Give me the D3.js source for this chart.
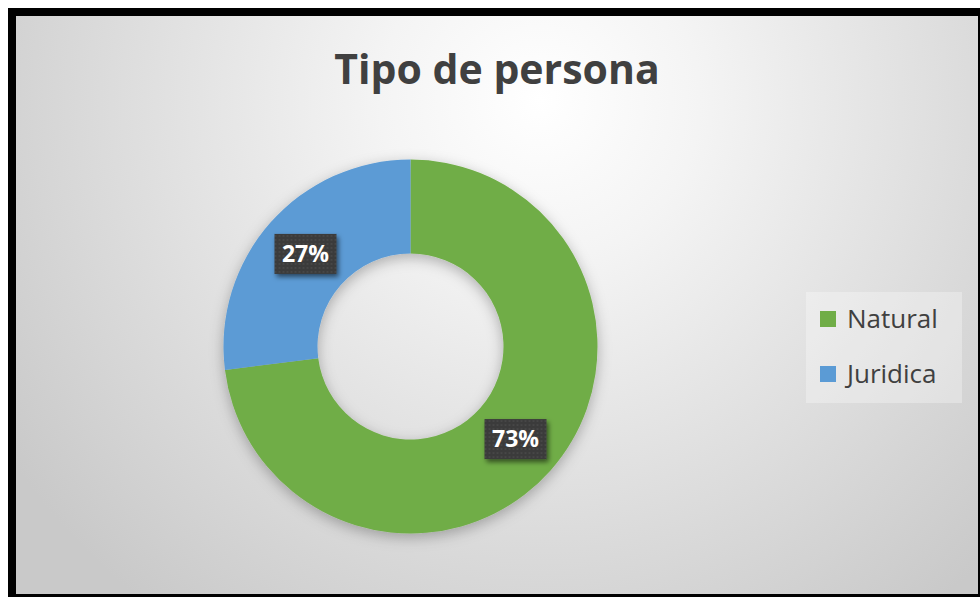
<!DOCTYPE html>
<html lang="es">
<head>
    <meta charset="UTF-8">
    <title>Tipo de persona</title>
    <script src="https://d3js.org/d3.v7.min.js"></script>
    <style>
        body {
            margin: 0;
            background: #fff;
        }
        svg { display: block; }
    </style>
</head>
<body>
    <script>
    // data
    var categories = ["Natural", "Juridica"];
    var values = [73, 27];
    var colors = ["#70AD47", "#5B9BD5"];
    var title = "Tipo de persona";

    var w = 980;
    var h = 597;

    var svg = d3.select("body")
        .append("svg")
        .attr("width", w)
        .attr("height", h);

    var defs = svg.append("defs");

    // background radial gradient
    var bg = defs.append("radialGradient")
        .attr("id", "bg")
        .attr("gradientUnits", "userSpaceOnUse")
        .attr("cx", 540).attr("cy", 100).attr("r", 640);
    bg.append("stop").attr("offset", 0).attr("stop-color", "#ffffff");
    bg.append("stop").attr("offset", 0.25).attr("stop-color", "#f4f4f4");
    bg.append("stop").attr("offset", 0.6).attr("stop-color", "#e0e0e0");
    bg.append("stop").attr("offset", 1).attr("stop-color", "#c9c9c9");

    var ringShadow = defs.append("filter").attr("id", "ringShadow")
        .attr("x", "-20%").attr("y", "-20%").attr("width", "140%").attr("height", "140%");
    ringShadow.append("feDropShadow")
        .attr("dx", 0).attr("dy", 4).attr("stdDeviation", 7)
        .attr("flood-color", "#000").attr("flood-opacity", 0.28);

    var boxShadow = defs.append("filter").attr("id", "boxShadow")
        .attr("x", "-30%").attr("y", "-30%").attr("width", "160%").attr("height", "160%");
    boxShadow.append("feDropShadow")
        .attr("dx", 2).attr("dy", 3).attr("stdDeviation", 2.5)
        .attr("flood-color", "#000").attr("flood-opacity", 0.55);

    var dots = defs.append("pattern").attr("id", "dots")
        .attr("patternUnits", "userSpaceOnUse")
        .attr("width", 4).attr("height", 4);
    dots.append("rect").attr("width", 4).attr("height", 4).attr("fill", "#3a3a3a");
    dots.append("circle").attr("cx", 2).attr("cy", 2).attr("r", 0.8).attr("fill", "#555");

    // frame
    svg.append("rect")
        .attr("x", 8).attr("y", 8)
        .attr("width", w).attr("height", h)
        .attr("fill", "#000");
    svg.append("rect")
        .attr("x", 16).attr("y", 16)
        .attr("width", 962).attr("height", 578)
        .attr("fill", "url(#bg)");

    // title
    svg.append("text")
        .attr("x", 497)
        .attr("y", 84)
        .attr("text-anchor", "middle")
        .attr("font-family", "'Open Sans', sans-serif")
        .attr("font-weight", "bold")
        .attr("font-size", 41)
        .attr("fill", "#404040")
        .text(title);

    // donut
    var cx = 410.5, cy = 346.5;
    var outerR = 187, innerR = 93;

    var pie = d3.pie().sort(null).value(function(d) { return d; });
    var arc = d3.arc().innerRadius(innerR).outerRadius(outerR);
    var color = d3.scaleOrdinal().domain(categories).range(colors);

    var g = svg.append("g")
        .attr("transform", "translate(" + cx + "," + cy + ")");

    var arcs = pie(values);

    g.append("g")
        .attr("filter", "url(#ringShadow)")
        .selectAll("path")
        .data(arcs)
        .enter()
        .append("path")
        .attr("d", arc)
        .attr("fill", function(d, i) { return color(categories[i]); });

    var total = d3.sum(values);
    var labels = g.selectAll(".lbl")
        .data(arcs)
        .enter()
        .append("g")
        .attr("class", "lbl")
        .attr("transform", function(d) {
            var c = arc.centroid(d);
            return "translate(" + c[0] + "," + c[1] + ")";
        });

    labels.append("rect")
        .attr("x", -31).attr("y", -20)
        .attr("width", 62).attr("height", 40)
        .attr("fill", "url(#dots)")
        .attr("filter", "url(#boxShadow)");

    labels.append("text")
        .attr("text-anchor", "middle")
        .attr("y", 8)
        .attr("font-family", "'Open Sans', sans-serif")
        .attr("font-weight", "bold")
        .attr("font-size", 23)
        .attr("fill", "#fff")
        .text(function(d) { return Math.round(d.data / total * 100) + "%"; });

    // legend
    var legend = svg.append("g").attr("transform", "translate(806,292)");
    legend.append("rect")
        .attr("width", 156).attr("height", 111)
        .attr("fill", "#ffffff")
        .attr("fill-opacity", 0.3);

    var rows = legend.selectAll(".row")
        .data(categories)
        .enter()
        .append("g")
        .attr("class", "row")
        .attr("transform", function(d, i) { return "translate(0," + (27 + i * 55) + ")"; });

    rows.append("rect")
        .attr("x", 14).attr("y", -8)
        .attr("width", 16).attr("height", 16)
        .attr("fill", function(d) { return color(d); });

    rows.append("text")
        .attr("x", 41)
        .attr("y", 9)
        .attr("font-family", "'Open Sans', sans-serif")
        .attr("font-size", 26)
        .attr("fill", "#404040")
        .text(function(d) { return d; });
    </script>
</body>
</html>
